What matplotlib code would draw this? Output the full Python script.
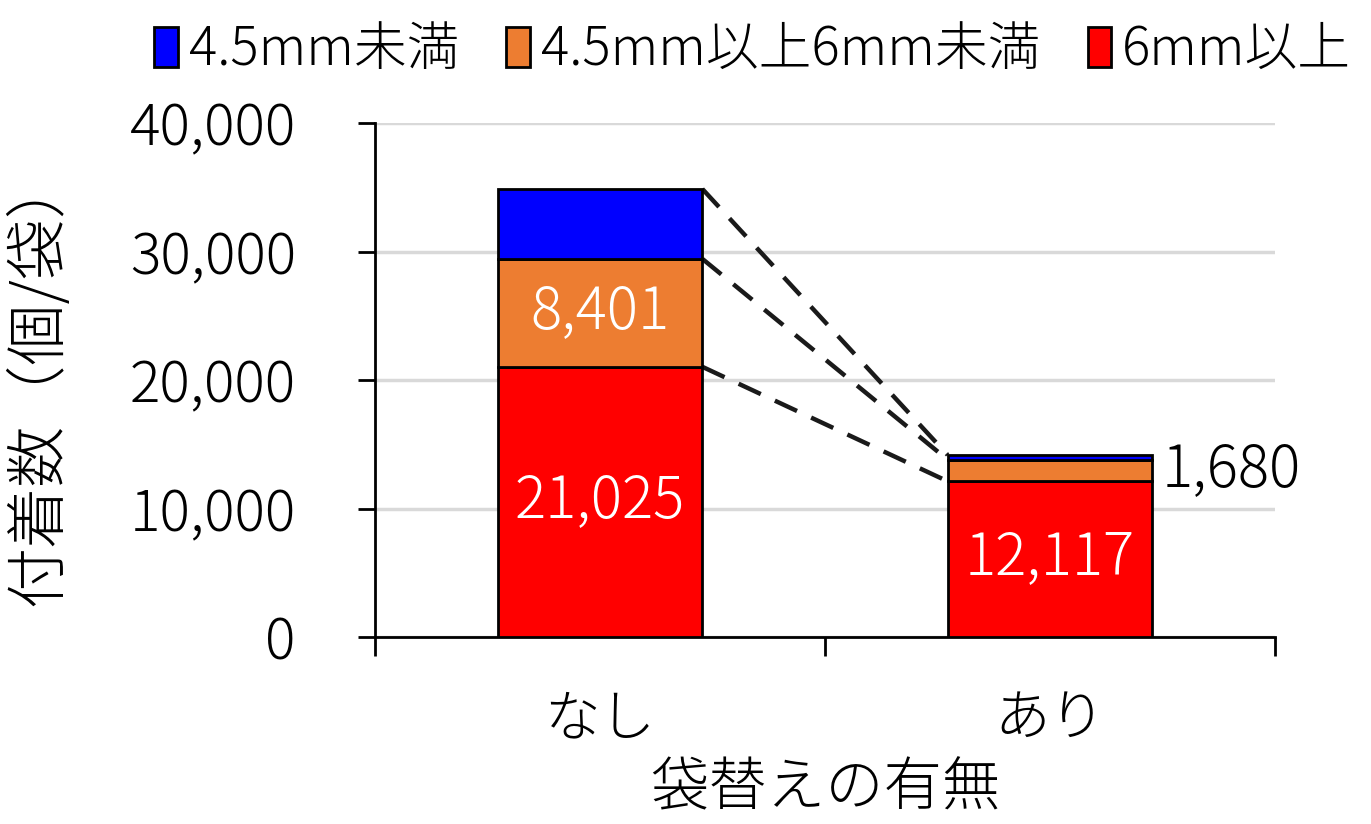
import numpy as np
import matplotlib
matplotlib.use("Agg")
from matplotlib import pyplot as plt

plt.rcParams['font.family'] = ['Noto Sans CJK JP', 'DejaVu Sans']
plt.rcParams['font.weight'] = 'light'
plt.rcParams['axes.labelweight'] = 'light'

categories = ['なし', 'あり']
series_names = ['4.5mm未満', '4.5mm以上6mm未満', '6mm以上']
small = [5440, 370]       # 4.5mm未満
middle = [8401, 1680]     # 4.5mm以上6mm未満
large = [21025, 12117]    # 6mm以上
colors = ['#0000ff', '#ed7d31', '#ff0000']

fig = plt.figure(figsize=(13.71, 8.24), dpi=100)
ax = fig.add_axes([375 / 1371, 1 - 637 / 824, 900 / 1371, 514 / 824])

x = np.arange(len(categories))
w = 0.455
ax.bar(x, large, w, color=colors[2], edgecolor='black', linewidth=2, zorder=3)
ax.bar(x, middle, w, bottom=large, color=colors[1], edgecolor='black', linewidth=2, zorder=3)
bottom2 = np.array(large) + np.array(middle)
ax.bar(x, small, w, bottom=bottom2, color=colors[0], edgecolor='black', linewidth=2, zorder=3)

# series lines between the bars
tops = [np.array(large), bottom2, bottom2 + np.array(small)]
for t in tops:
    ax.plot([x[0] + w / 2, x[1] - w / 2], [t[0], t[1]], ls=(0, (5.5, 3.5)), color='#1a1a1a', lw=3.2, zorder=2)

# labels
lab = 42
ax.text(x[0], large[0] / 2, f'{large[0]:,}', ha='center', va='center', color='white', fontsize=lab, zorder=4)
ax.text(x[0], large[0] + middle[0] / 2, f'{middle[0]:,}', ha='center', va='center', color='white', fontsize=lab, zorder=4)
ax.text(x[1], large[1] / 2, f'{large[1]:,}', ha='center', va='center', color='white', fontsize=lab, zorder=4)
ax.text(x[1] + w / 2 + 0.02, large[1] + middle[1] / 2, f'{middle[1]:,}', ha='left', va='center', color='black', fontsize=lab, zorder=4)

ax.set_xlim(-0.5, 1.5)
ax.set_ylim(0, 40000)
ax.set_yticks([0, 10000, 20000, 30000, 40000])
ax.set_yticklabels([f'{v:,}' for v in [0, 10000, 20000, 30000, 40000]], fontsize=41)
ax.set_xticks(x)
ax.set_xticklabels(categories, fontsize=40)
ax.set_xticks([-0.5, 0.5, 1.5], minor=True)
ax.tick_params(axis='x', which='major', length=0, pad=38)
ax.tick_params(axis='x', which='minor', length=14, width=2, direction='out')
ax.tick_params(axis='y', length=12, width=2, direction='out', pad=45)
ax.grid(axis='y', color='#d9d9d9', lw=2.5, zorder=0)
for s in ['top', 'right']:
    ax.spines[s].set_visible(False)
ax.spines['left'].set_linewidth(2)
ax.spines['bottom'].set_linewidth(2)

ax.set_ylabel('付着数（個/袋）', fontsize=44, labelpad=42)
ax.set_xlabel('袋替えの有無', fontsize=42, labelpad=8)

handles = [plt.Rectangle((0, 0), 1, 1, facecolor=c, edgecolor='black', lw=2) for c in colors]
fig.legend(handles, series_names, loc='upper right', bbox_to_anchor=(1.02, 1.03), ncol=3, frameon=False,
           fontsize=38, handlelength=0.45, handleheight=0.8, handletextpad=0.2, columnspacing=0.9)

fig.savefig('out.png', dpi=100)
